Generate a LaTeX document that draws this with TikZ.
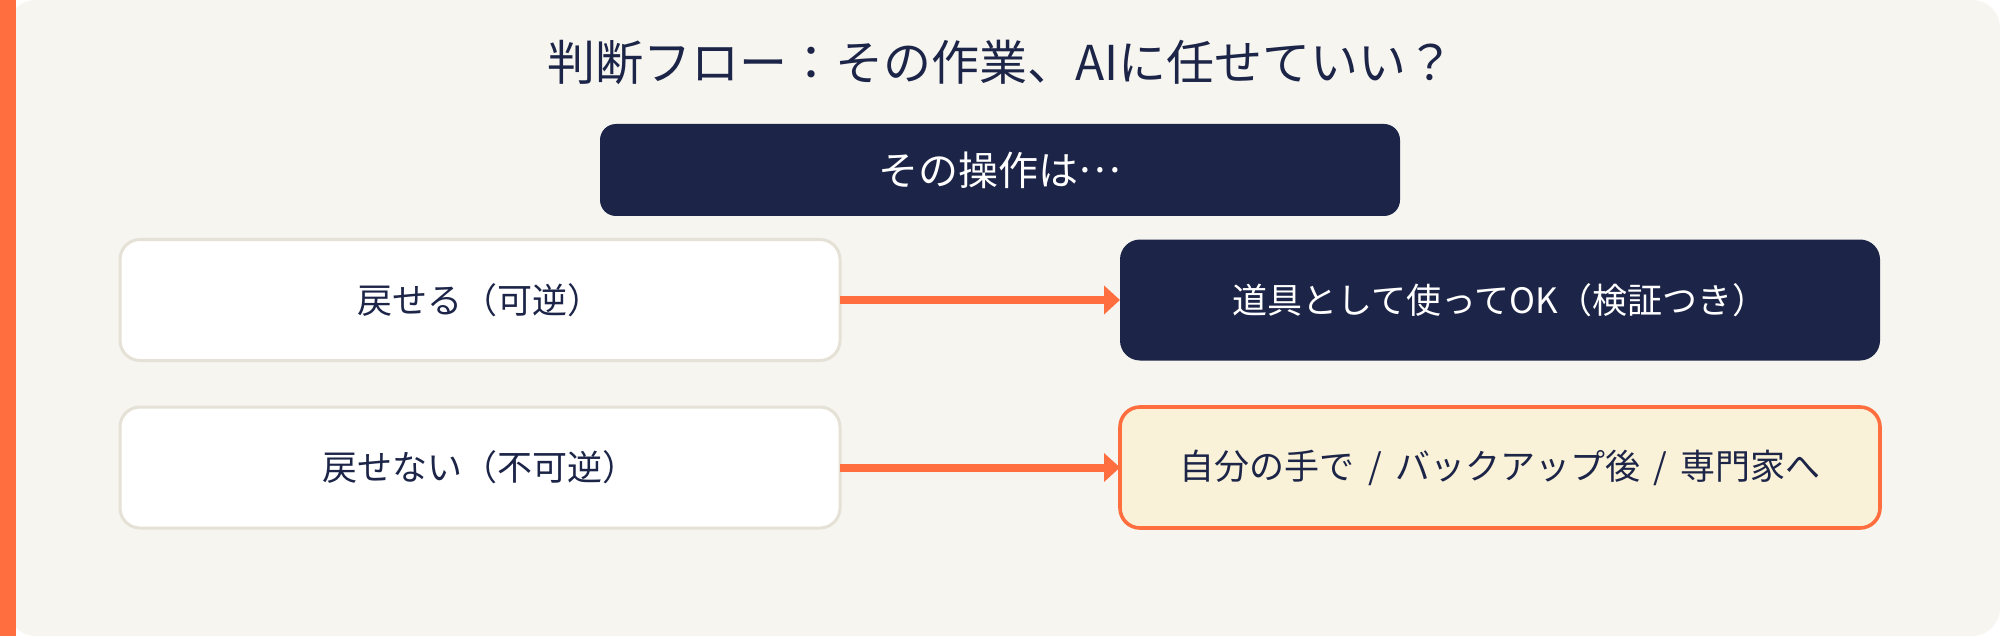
\documentclass[tikz,border=0pt]{standalone}
\usepackage{fontspec}
\setmainfont{Noto Sans CJK JP}
\usetikzlibrary{arrows.meta}
\definecolor{navy}{HTML}{1C2548}
\definecolor{cream}{HTML}{F6F5F0}
\definecolor{accent}{HTML}{FF6E3E}
\definecolor{beige}{HTML}{E6E1D6}
\definecolor{paleyellow}{HTML}{FAF2D8}
\newcommand{\slashsep}{\hspace{0.38em}/\hspace{0.38em}}
\newcommand{\midellipsis}{\raisebox{0.32em}{…}}
\tikzset{
  box/.style={rectangle, rounded corners=10pt, inner sep=0pt, outer sep=0pt,
    minimum height=60.5pt, font=\fontsize{17.5pt}{21pt}\selectfont},
  leftbox/.style={box, fill=white, draw=beige, line width=1.5pt, text=navy, minimum width=360pt},
  darkbox/.style={box, fill=navy, text=white, minimum width=380pt},
  warnbox/.style={box, fill=paleyellow, draw=accent, line width=1.8pt, text=navy, minimum width=380pt},
  flow/.style={draw=accent, line width=4pt, -{Triangle[length=8pt,width=14pt]}},
}
\begin{document}
\begin{tikzpicture}[x=0.5pt,y=-0.5pt]
\useasboundingbox (0,0) rectangle (2000,636);
\fill[white] (0,0) rectangle (2000,636);
\fill[cream, rounded corners=14pt] (8,0) rectangle (2000,636);
\fill[accent] (0,0) rectangle (16,636);
\node[text=navy, font=\fontsize{24pt}{28pt}\selectfont] (title) at (1001,62) {判断フロー：その作業、AIに任せていい？};
\node[box, fill=navy, text=white, minimum width=400pt, minimum height=46pt, rounded corners=8pt,
  font=\fontsize{20pt}{24pt}\selectfont] (op) at (1000,170) {その操作は\midellipsis};
\node[leftbox] (rev) at (480,300) {戻せる（可逆）};
\node[leftbox] (irrev) at (480,467.5) {戻せない（不可逆）};
\node[darkbox] (ok) at (1500,300) {道具として使ってOK（検証つき）};
\node[warnbox] (care) at (1500,467.5) {自分の手で\slashsep バックアップ後\slashsep 専門家へ};
\draw[flow] (rev.east) -- (ok.west);
\draw[flow] (irrev.east) -- (care.west);
\end{tikzpicture}
\end{document}
